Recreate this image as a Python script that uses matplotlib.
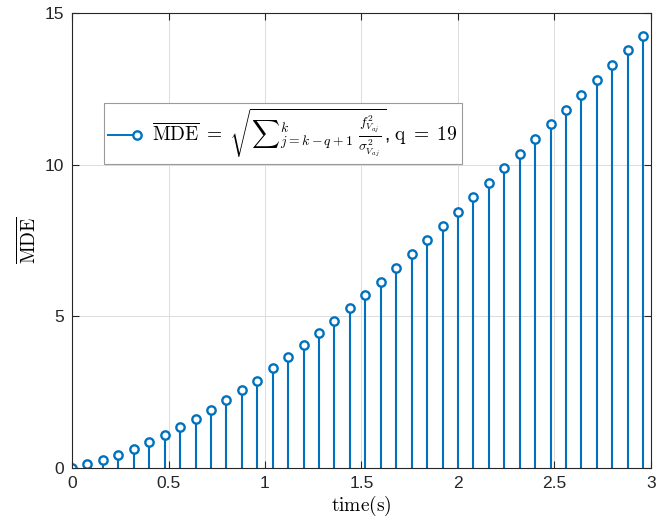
import numpy as np
import matplotlib.pyplot as plt
from matplotlib.lines import Line2D
from matplotlib.legend_handler import HandlerBase

plt.rcParams['font.family'] = ['Liberation Sans', 'DejaVu Sans']
plt.rcParams['mathtext.fontset'] = 'cm'

# time samples (s) and MDE values
t = np.arange(38) * 0.08
mde = [0.00, 0.13, 0.26, 0.43, 0.62, 0.85, 1.09, 1.35, 1.63, 1.92,
       2.24, 2.57, 2.88, 3.28, 3.66, 4.04, 4.44, 4.84, 5.27, 5.70,
       6.13, 6.59, 7.05, 7.52, 7.98, 8.44, 8.93, 9.41, 9.89, 10.36,
       10.86, 11.33, 11.81, 12.30, 12.79, 13.29, 13.77, 14.25]

blue = '#0072BD'
mk = dict(marker='o', markerfacecolor='white', markeredgecolor=blue,
          markeredgewidth=1.7, markersize=6)


class StemHandler(HandlerBase):
    # MATLAB-like legend entry: line with the marker at its right end
    def create_artists(self, legend, orig_handle, xdescent, ydescent,
                       width, height, fontsize, trans):
        y = height / 2 - ydescent
        x0, x1 = -xdescent, width - xdescent
        line = Line2D([x0, x1], [y, y], color=blue, linewidth=1.4)
        dot = Line2D([x1], [y], linestyle='none', **mk)
        line.set_transform(trans)
        dot.set_transform(trans)
        return [line, dot]


fig = plt.figure(figsize=(6.7, 5.24), dpi=100)
ax = fig.add_axes([0.1075, 0.107, 0.864, 0.868])

ml, sl, bl = ax.stem(t, mde, basefmt=' ')
plt.setp(sl, color=blue, linewidth=1.5)
plt.setp(ml, **mk)

ax.set_xlim(0, 3)
ax.set_ylim(0, 15)
ax.set_xticks([0, 0.5, 1, 1.5, 2, 2.5, 3])
ax.set_xticklabels(['0', '0.5', '1', '1.5', '2', '2.5', '3'])
ax.set_yticks([0, 5, 10, 15])
ax.grid(True, color='#dcdcdc', linewidth=0.7)
ax.set_axisbelow(True)
for s in ax.spines.values():
    s.set_color('#262626')
    s.set_linewidth(0.8)
ax.tick_params(direction='in', top=True, right=True, labelsize=12.5,
               colors='#262626', length=5, pad=6)

ax.set_xlabel(r'$\mathrm{time(s)}$', fontsize=14, labelpad=2)
ax.set_ylabel(r'$\overline{\mathrm{MDE}}$', fontsize=14, labelpad=3)

lab = (r'$\overline{\mathrm{MDE}}\;=\;\sqrt{\sum{}_{j=k-q+1}^{k}\;'
       r'\frac{f_{V_{aj}}^2}{\sigma_{V_{aj}}^2}}$, $\mathrm{q}\;=\;19$')
leg = ax.legend([object()], [lab], handler_map={object: StemHandler()},
                loc='upper left', bbox_to_anchor=(0.055, 0.802), borderaxespad=0,
                fontsize=14, fancybox=False, edgecolor='#9a9a9a', framealpha=1,
                handlelength=1.5, handletextpad=0.8, borderpad=0.2)
leg.get_frame().set_linewidth(0.8)

fig.savefig('out.png', dpi=100)
